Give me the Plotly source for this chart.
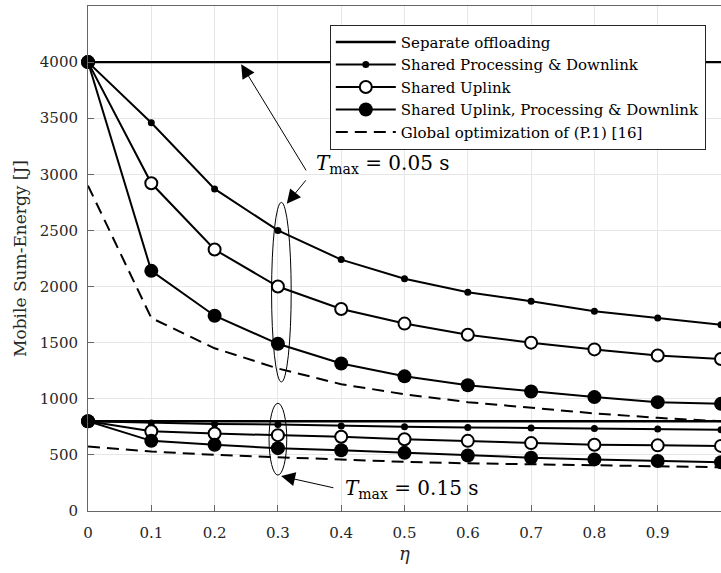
import plotly.graph_objects as go

eta = [0, 0.1, 0.2, 0.3, 0.4, 0.5, 0.6, 0.7, 0.8, 0.9, 1.0]

# T_max = 0.05 s
sep_a = [4000] * 11
spd_a = [4000, 3460, 2870, 2500, 2240, 2070, 1950, 1870, 1780, 1720, 1660]
su_a = [4000, 2920, 2330, 2000, 1800, 1670, 1570, 1500, 1440, 1385, 1355]
supd_a = [4000, 2140, 1740, 1490, 1315, 1200, 1120, 1065, 1015, 970, 955]
glob_a = [2900, 1720, 1450, 1270, 1130, 1040, 970, 920, 870, 830, 800]

# T_max = 0.15 s
sep_b = [800] * 11
spd_b = [800, 785, 776, 770, 758, 750, 745, 740, 735, 730, 725]
su_b = [800, 710, 690, 676, 661, 640, 625, 605, 590, 585, 580]
supd_b = [800, 625, 590, 560, 542, 518, 495, 475, 460, 445, 435]
glob_b = [575, 530, 500, 480, 458, 438, 425, 415, 405, 395, 390]

names = ["Separate offloading", "Shared Processing &amp; Downlink", "Shared Uplink",
         "Shared Uplink, Processing &amp; Downlink", "Global optimization of (P.1) [16]"]

styles = [
    dict(mode="lines", line=dict(color="black", width=2.4)),
    dict(mode="lines+markers", line=dict(color="black", width=2),
         marker=dict(symbol="circle", size=7, color="black")),
    dict(mode="lines+markers", line=dict(color="black", width=2),
         marker=dict(symbol="circle", size=12, color="white", line=dict(color="black", width=2))),
    dict(mode="lines+markers", line=dict(color="black", width=2),
         marker=dict(symbol="circle", size=14, color="black")),
    dict(mode="lines", line=dict(color="black", width=2, dash="12px,7px")),
]

fig = go.Figure()
groups = [[sep_a, spd_a, su_a, supd_a, glob_a], [sep_b, spd_b, su_b, supd_b, glob_b]]
for gi, grp in enumerate(groups):
    for i, ys in enumerate(grp):
        fig.add_trace(go.Scatter(x=eta, y=ys, name=names[i], legendgroup=str(i),
                                 showlegend=(gi == 0), cliponaxis=False, **styles[i]))

font = "DejaVu Serif, Liberation Serif, serif"

# ellipses
fig.add_shape(type="circle", xref="x", yref="y", x0=0.290, x1=0.321, y0=1150, y1=2750,
              line=dict(color="black", width=1))
fig.add_shape(type="circle", xref="x", yref="y", x0=0.286, x1=0.314, y0=320, y1=960,
              line=dict(color="black", width=1))

# arrows
arrow = dict(showarrow=True, arrowhead=2, arrowsize=2.8, arrowwidth=1, arrowcolor="black",
             xref="x", yref="y", axref="x", ayref="y", text="")
fig.add_annotation(x=0.242, y=3982, ax=0.346, ay=3022, **arrow)
fig.add_annotation(x=0.314, y=2738, ax=0.346, ay=2960, **arrow)
fig.add_annotation(x=0.305, y=311, ax=0.39, ay=204, **arrow)

fig.add_annotation(x=0.4665, y=3090, xref="x", yref="y", showarrow=False,
                   text="<i>T</i><sub>max</sub> = 0.05 s", font=dict(family=font, size=20, color="black"))
fig.add_annotation(x=0.512, y=195, xref="x", yref="y", showarrow=False,
                   text="<i>T</i><sub>max</sub> = 0.15 s", font=dict(family=font, size=20, color="black"))

axis_common = dict(showgrid=True, gridcolor="#e6e6e6", gridwidth=1, showline=True,
                   linecolor="#666666", linewidth=1, mirror=True, ticks="inside", ticklen=6,
                   tickcolor="#666666", zeroline=False, automargin=False,
                   tickfont=dict(family=font, size=15, color="#262626"))

fig.update_xaxes(range=[0, 1], tickvals=[0, 0.1, 0.2, 0.3, 0.4, 0.5, 0.6, 0.7, 0.8, 0.9],
                 ticktext=["0", "0.1", "0.2", "0.3", "0.4", "0.5", "0.6", "0.7", "0.8", "0.9"],
                 ticklabelstandoff=8,
                 title=dict(text="<i>η</i>", font=dict(family=font, size=18, color="#262626"), standoff=6),
                 **axis_common)
fig.update_yaxes(range=[0, 4500], tickvals=list(range(0, 4501, 500)),
                 ticklabelstandoff=6,
                 title=dict(text="Mobile Sum-Energy [J]", font=dict(family=font, size=17, color="#262626"),
                            standoff=8),
                 **axis_common)

fig.update_layout(
    width=721, height=573,
    margin=dict(l=88, r=0, t=6, b=62),
    plot_bgcolor="white", paper_bgcolor="white",
    font=dict(family=font, size=15, color="black"),
    legend=dict(x=0.382, y=0.963, xanchor="left", yanchor="top",
                bgcolor="white", bordercolor="#262626", borderwidth=1,
                font=dict(family=font, size=15, color="black"),
                tracegroupgap=0, itemsizing="trace", itemwidth=60),
)

fig.write_html("out.html", config={"displayModeBar": False},
               post_script="document.body.style.margin='0px';")
